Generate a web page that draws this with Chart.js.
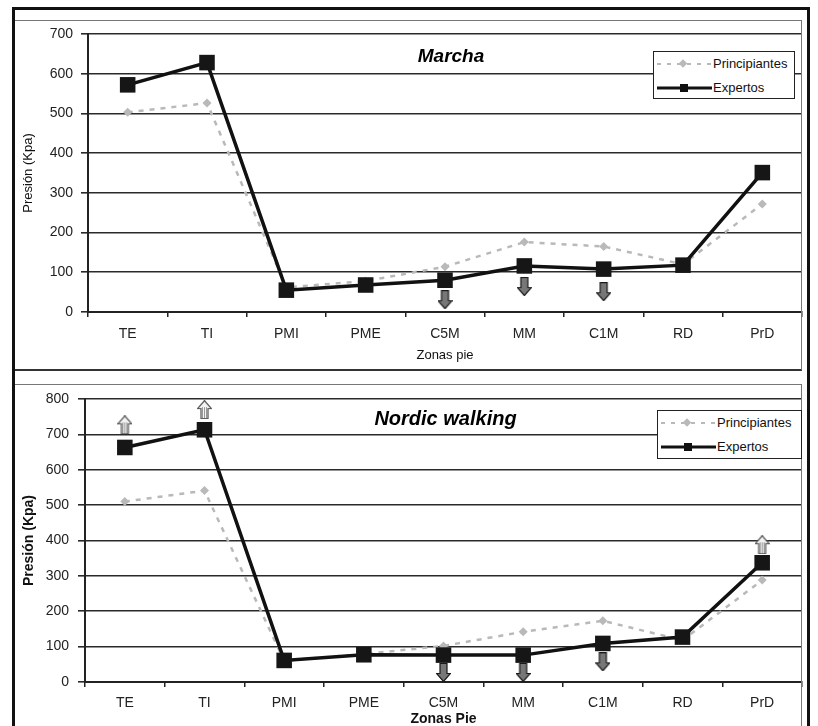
<!DOCTYPE html>
<html lang="es">
<head>
<meta charset="UTF-8">
<title>Presión plantar - Marcha / Nordic walking</title>
<script src="https://cdn.jsdelivr.net/npm/chart.js"></script>
<style>
    body {
        margin: 0;
        background: #fff;
        font-family: Arial, 'Liberation Sans', sans-serif;
    }
    #page {
        position: relative;
        width: 818px;
        height: 726px;
        overflow: hidden;
        background: #fff;
    }
    canvas { position: absolute; left: 0; }
    #c1 { top: 0; }
    #c2 { top: 370px; }
    .frame { position: absolute; pointer-events: none; box-sizing: border-box; }
    #outer { left: 12px; top: 7px; width: 798px; height: 760px; border: 3px solid #111; }
    #box1 { left: 15px; top: 20px; width: 787px; height: 351px; border: 1px solid #777; border-bottom: 2px solid #333; border-left: none; }
    #box2 { left: 15px; top: 384px; width: 787px; height: 400px; border: 1px solid #777; border-left: none; }
    .legend {
        position: absolute;
        background: #fff;
        border: 1.5px solid #222;
        box-sizing: border-box;
        font-size: 13px;
        color: #111;
    }
    .legend .row { position: absolute; left: 0; height: 14px; width: 100%; }
    .legend svg { position: absolute; left: 2px; top: 2px; }
    .legend span { position: absolute; left: 59px; top: -1px; line-height: 16px; white-space: nowrap; }
</style>
</head>
<body>
<div id="page">
    <canvas id="c1" width="818" height="370"></canvas>
    <canvas id="c2" width="818" height="370"></canvas>
    <div class="frame" id="box1"></div>
    <div class="frame" id="box2"></div>
    <div class="frame" id="outer"></div>
    <div class="legend" id="leg1" style="left:653px; top:51px; width:142px; height:48px;"></div>
    <div class="legend" id="leg2" style="left:657px; top:410px; width:145px; height:49px;"></div>
</div>
<script>
    // zonas del pie
    const categories = ['TE', 'TI', 'PMI', 'PME', 'C5M', 'MM', 'C1M', 'RD', 'PrD'];
    const seriesNames = ['Principiantes', 'Expertos'];

    // Marcha (Kpa)
    const marchaPrincipiantes = [503, 526, 62, 78, 114, 176, 165, 120, 272];
    const marchaExpertos = [572, 628, 55, 68, 80, 116, 108, 118, 351];
    const marchaArrowDown = [null, null, null, null, 31, 64, 51, null, null];

    // Nordic walking (Kpa)
    const nordicPrincipiantes = [510, 541, 60, 79, 102, 142, 173, 118, 288];
    const nordicExpertos = [663, 713, 61, 77, 76, 76, 109, 127, 337];
    const nordicArrowUp = [727, 770, null, null, null, null, null, null, 388];
    const nordicArrowDown = [null, null, null, null, 27, 27, 57, null, null];

    const marchaTicks = [0, 100, 200, 300, 400, 500, 600, 700];
    const nordicTicks = [0, 100, 200, 300, 400, 500, 600, 700, 800];

    Chart.defaults.font.family = "Arial, 'Liberation Sans', sans-serif";
    Chart.defaults.color = '#222';

    // flechas como imagen de punto
    function makeArrow(up) {
        const c = document.createElement('canvas');
        c.width = 15; c.height = 19;
        const g = c.getContext('2d');
        if (up) { g.translate(0, 19); g.scale(1, -1); }
        g.beginPath();
        g.moveTo(4, 0.5); g.lineTo(11, 0.5); g.lineTo(11, 10.5);
        g.lineTo(14.5, 10.5); g.lineTo(7.5, 18.5); g.lineTo(0.5, 10.5);
        g.lineTo(4, 10.5); g.closePath();
        if (up) {
            g.fillStyle = '#f4f4f4';
            g.fill();
            g.save();
            g.clip();
            g.fillStyle = '#9a9a9a';
            for (let x = 5; x < 11; x += 2) g.fillRect(x, 0, 1, 12);
            g.restore();
            g.strokeStyle = '#555';
        } else {
            g.fillStyle = '#777';
            g.fill();
            g.strokeStyle = '#1a1a1a';
        }
        g.lineWidth = 1.2;
        g.stroke();
        return c;
    }
    const arrowDownImg = makeArrow(false);
    const arrowUpImg = makeArrow(true);

    const insideTitle = {
        id: 'insideTitle',
        afterDraw(chart, args, opts) {
            const { ctx, chartArea } = chart;
            ctx.save();
            ctx.font = opts.font;
            ctx.fillStyle = '#000';
            ctx.textAlign = 'center';
            ctx.textBaseline = 'middle';
            ctx.fillText(opts.text, (chartArea.left + chartArea.right) / 2 + opts.dx, chartArea.top + opts.dy);
            ctx.restore();
        }
    };

    function arrowSet(data, img) {
        return {
            label: 'arrow',
            data: data,
            showLine: false,
            pointStyle: img,
            pointRadius: 8,
            clip: false
        };
    }

    function createChart(canvasId, cfg) {
        const datasets = [
            {
                label: seriesNames[1],
                data: cfg.expertos,
                borderColor: '#111',
                backgroundColor: '#161616',
                borderWidth: 3.5,
                pointStyle: 'rect',
                pointRadius: 11,
                pointBorderWidth: 0
            },
            {
                label: seriesNames[0],
                data: cfg.principiantes,
                borderColor: '#b9b9b9',
                backgroundColor: '#b9b9b9',
                borderWidth: 2.5,
                borderDash: [5, 6],
                pointStyle: 'rectRot',
                pointRadius: 4.5,
                pointBorderWidth: 0
            }
        ].concat(cfg.arrows);

        return new Chart(document.getElementById(canvasId), {
            type: 'line',
            data: { labels: categories, datasets: datasets },
            options: {
                responsive: false,
                animation: false,
                layout: { padding: { top: cfg.padTop, right: 16, left: 0, bottom: 0 } },
                plugins: {
                    legend: { display: false },
                    tooltip: { enabled: false },
                    insideTitle: cfg.title
                },
                scales: {
                    x: {
                        offset: true,
                        afterFit(scale) { scale.height = cfg.xHeight; },
                        grid: { display: true, offset: true, drawOnChartArea: false, drawTicks: true, tickLength: 5, color: '#222', lineWidth: 1.5 },
                        border: { color: '#222', width: 2 },
                        ticks: { font: { size: 14 }, color: '#222', padding: cfg.xPad, maxRotation: 0 },
                        title: { display: true, text: cfg.xTitle, font: cfg.xTitleFont, color: '#111', padding: { top: 0, bottom: cfg.xTitlePad } }
                    },
                    y: {
                        min: 0,
                        max: cfg.ticks[cfg.ticks.length - 1],
                        afterFit(scale) { scale.width = cfg.yWidth; },
                        afterBuildTicks(scale) { scale.ticks = cfg.ticks.map(v => ({ value: v })); },
                        grid: { color: '#2a2a2a', lineWidth: 1.6, tickLength: 7 },
                        border: { color: '#222', width: 2 },
                        ticks: { font: { size: 14 }, color: '#222', padding: cfg.yPad },
                        title: { display: true, text: 'Presión (Kpa)', font: cfg.yTitleFont, color: '#111', padding: { top: cfg.yTitlePad, bottom: 0 } }
                    }
                }
            },
            plugins: [insideTitle]
        });
    }

    createChart('c1', {
        expertos: marchaExpertos,
        principiantes: marchaPrincipiantes,
        arrows: [arrowSet(marchaArrowDown, arrowDownImg)],
        ticks: marchaTicks,
        padTop: 34,
        xHeight: 58,
        yWidth: 88,
        xPad: 9,
        yPad: 8,
        xTitle: 'Zonas pie',
        xTitleFont: { size: 13 },
        xTitlePad: 7,
        yTitleFont: { size: 13 },
        yTitlePad: 21,
        title: { text: 'Marcha', font: "italic bold 19px Arial, 'Liberation Sans', sans-serif", dx: 6, dy: 23 }
    });

    createChart('c2', {
        expertos: nordicExpertos,
        principiantes: nordicPrincipiantes,
        arrows: [arrowSet(nordicArrowUp, arrowUpImg), arrowSet(nordicArrowDown, arrowDownImg)],
        ticks: nordicTicks,
        padTop: 29,
        xHeight: 58,
        yWidth: 85,
        xPad: 8,
        yPad: 9,
        xTitle: 'Zonas Pie',
        xTitleFont: { size: 14, weight: 'bold' },
        xTitlePad: 12,
        yTitleFont: { size: 14, weight: 'bold' },
        yTitlePad: 21,
        title: { text: 'Nordic walking', font: "italic bold 20px Arial, 'Liberation Sans', sans-serif", dx: 2, dy: 20 }
    });

    // leyendas dentro del área de trazado
    function makeLegend(id) {
        const box = document.getElementById(id);
        const rowsY = [5, 29];
        seriesNames.forEach((name, i) => {
            const row = document.createElement('div');
            row.className = 'row';
            row.style.top = rowsY[i] + 'px';
            let svg;
            if (i === 0) {
                svg = '<svg width="56" height="10"><line x1="1" y1="5" x2="55" y2="5" stroke="#b9b9b9" stroke-width="2" stroke-dasharray="4 6"/>' +
                      '<rect x="24" y="1.5" width="6" height="6" fill="#b9b9b9" transform="rotate(45 27 4.5)"/></svg>';
            } else {
                svg = '<svg width="56" height="10"><line x1="1" y1="5" x2="56" y2="5" stroke="#111" stroke-width="3"/>' +
                      '<rect x="24" y="1" width="8" height="8" fill="#111"/></svg>';
            }
            row.innerHTML = svg + '<span>' + name + '</span>';
            box.appendChild(row);
        });
    }
    makeLegend('leg1');
    makeLegend('leg2');
</script>
</body>
</html>
